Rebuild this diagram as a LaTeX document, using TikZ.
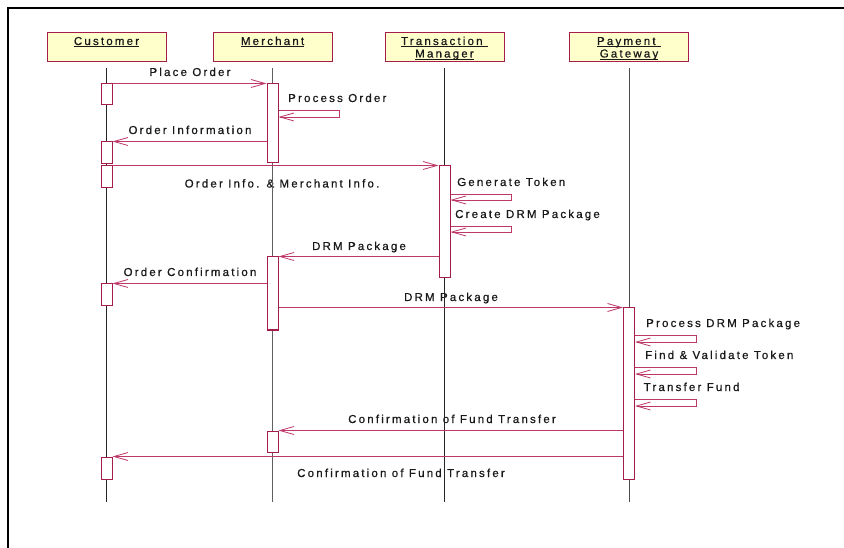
\documentclass[tikz,border=0pt]{standalone}
\usepackage{fontspec}
\setmainfont{Liberation Sans}[LetterSpace=19, FakeBold=0.7]
\usepackage{tikz}
\usetikzlibrary{
    arrows.meta,
    calc,
    positioning
}
\definecolor{objfill}{RGB}{255,255,204}
\definecolor{objborder}{RGB}{165,30,75}
\definecolor{msgline}{RGB}{190,55,105}
\definecolor{labeltext}{RGB}{25,25,25}
\definecolor{lifegray}{RGB}{95,95,95}
\newcommand{\objtitle}[1]{\underline{\raisebox{0pt}[\height][0pt]{#1}}}

\begin{document}
\begin{tikzpicture}[x=1pt, y=-1pt,
    objbox/.style={draw=objborder, fill=objfill, line width=1pt,
        minimum width=119pt, minimum height=29pt, inner sep=0pt},
    objname/.style={font=\fontsize{11.5}{13}\selectfont, text=labeltext,
        anchor=base, inner sep=0pt},
    lifeline/.style={line width=0.9pt, black!85},
    act/.style={draw=objborder, fill=white, line width=1pt,
        minimum width=11pt, inner sep=0pt},
    msg/.style={msgline, line width=0.8pt,
        -{Straight Barb[length=14pt, width=8pt]}},
    msglabel/.style={font=\fontsize{11.5}{13}\selectfont, text=labeltext,
        anchor=base, inner sep=0pt}
]
    \useasboundingbox (0,0) rectangle (844,548);

    % Frame
    \draw[line width=1.5pt] (844,8) -- (8,8) -- (8,548);

    % === Objects ===
    \node[objbox] (cust) at (106.5,47.5) {};
    \node[objbox] (merch) at (272.5,47.5) {};
    \node[objbox] (tm) at (444.5,47.5) {};
    \node[objbox] (pg) at (629,47.5) {};

    \node[objname] (custname) at (106.5,45) {\objtitle{Customer}};
    \node[objname] (merchname) at (272.5,45) {\objtitle{Merchant}};
    \node[objname] (tmname) at (444.5,45) {\objtitle{Transaction\ }};
    \node[objname] (tmname2) at (444.5,57.5) {\objtitle{Manager}};
    \node[objname] (pgname) at (629,45) {\objtitle{Payment\ }};
    \node[objname] (pgname2) at (629,57.5) {\objtitle{Gateway}};

    % === Message labels ===
    \node[msglabel] (l1) at (190,76) {Place Order};
    \node[msglabel, anchor=base west] (l2) at (288,102) {Process Order};
    \node[msglabel] (l3) at (190,134) {Order Information};
    \node[msglabel] (l4) at (282,187.5) {Order Info. \& Merchant Info.};
    \node[msglabel, anchor=base west] (l5) at (457,186) {Generate Token};
    \node[msglabel, anchor=base west] (l6) at (455,218) {Create DRM Package};
    \node[msglabel] (l7) at (359,250) {DRM Package};
    \node[msglabel] (l8) at (190,276) {Order Confirmation};
    \node[msglabel] (l9) at (451,301) {DRM Package};
    \node[msglabel, anchor=base west] (l10) at (646,327) {Process DRM Package};
    \node[msglabel, anchor=base west] (l11) at (645,359) {Find \& Validate Token};
    \node[msglabel, anchor=base west] (l12) at (643.5,391) {Transfer Fund};
    \node[msglabel] (l13) at (452,423) {Confirmation of Fund Transfer};
    \node[msglabel] (l14) at (401,477) {Confirmation of Fund Transfer};

    % === Lifelines ===
    \coordinate (custend) at (106.5,502);
    \coordinate (merchend) at (272.5,502);
    \coordinate (tmend) at (444.5,502);
    \coordinate (pgend) at (629,502);
    \draw[lifeline] ([yshift=-6pt]cust.south) -- (custend);
    \draw[lifeline, lifegray, line width=1.4pt] ([yshift=-6pt]merch.south) -- (merchend);
    \draw[lifeline] ([yshift=-6pt]tm.south) -- (tmend);
    \draw[lifeline, black!70, line width=1pt] ([yshift=-6pt]pg.south) -- (pgend);

    % === Activations ===
    \node[act, minimum height=21pt] (c1) at (106.5,94.5) {};
    \node[act, minimum height=22pt] (c2) at (106.5,153) {};
    \node[act, minimum height=22pt] (c3) at (106.5,177) {};
    \node[act, minimum height=22pt] (c4) at (106.5,295) {};
    \node[act, minimum height=22pt] (c5) at (106.5,468) {};
    \node[act, minimum height=79pt] (m1) at (272.5,123.5) {};
    \node[act, minimum height=73pt] (m2) at (272.5,293.5) {};
    \node[act, minimum height=21pt] (m3) at (272.5,441.5) {};
    \node[act, minimum height=112pt] (t1) at (444.5,222) {};
    \node[act, minimum height=171pt] (p1) at (629,393.5) {};

    % === Messages ===
    \draw[msg] (c1.north east) -- (m1.north west);
    \draw[msg] (m1.east |- 0,110) -| (339,117) -- (m1.east |- 0,117);
    \draw[msg] (m1.west |- c2.north) -- (c2.north east);
    \draw[msg] (c3.north east) -- (t1.north west);
    \draw[msg] (t1.east |- 0,194) -| (511,200) -- (t1.east |- 0,200);
    \draw[msg] (t1.east |- 0,226) -| (511,232) -- (t1.east |- 0,232);
    \draw[msg] (t1.west |- m2.north) -- (m2.north east);
    \draw[msg] (m2.west |- c4.north) -- (c4.north east);
    \draw[msg] (m2.east |- p1.north) -- (p1.north west);
    \draw[msg] (p1.east |- 0,335) -| (696,342) -- (p1.east |- 0,342);
    \draw[msg] (p1.east |- 0,367) -| (696,374) -- (p1.east |- 0,374);
    \draw[msg] (p1.east |- 0,399) -| (696,406) -- (p1.east |- 0,406);
    \draw[msg] (p1.west |- m3.north) -- (m3.north east);
    \draw[msg] (p1.west |- c5.north) -- (c5.north east);
\end{tikzpicture}
\end{document}
